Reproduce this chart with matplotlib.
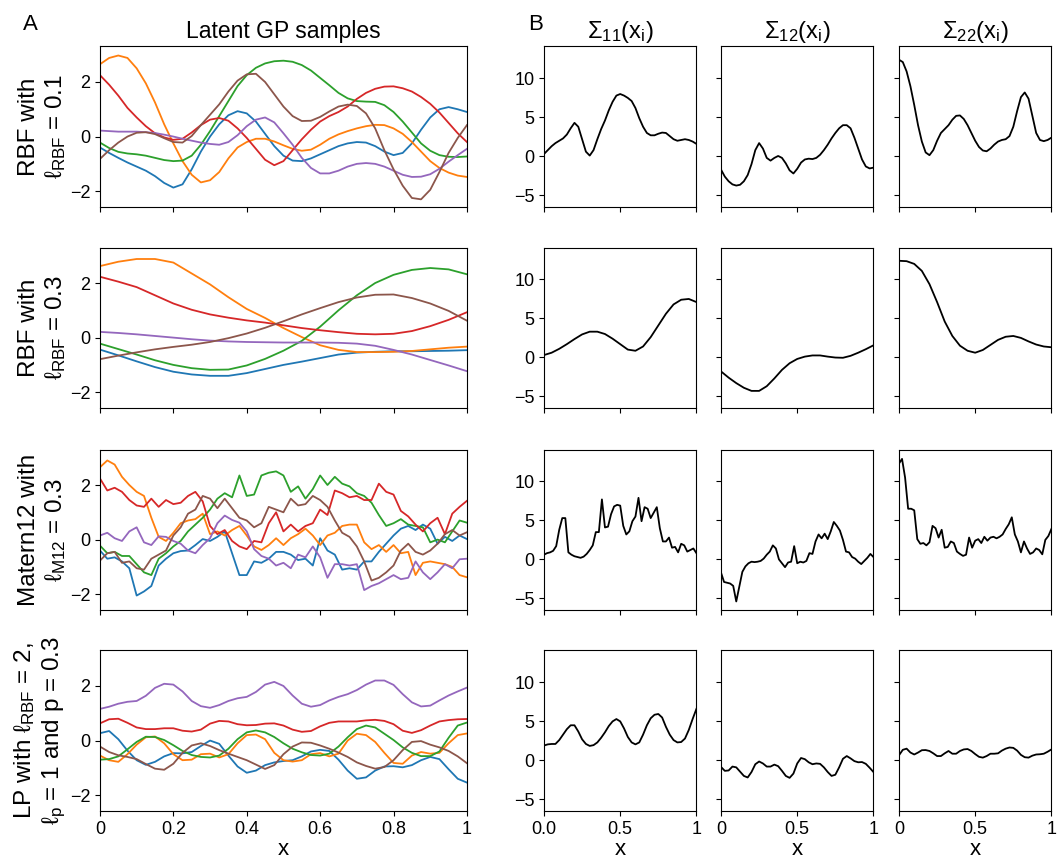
import numpy as np
import matplotlib
matplotlib.use('Agg')
import matplotlib.pyplot as plt

plt.rcParams['font.family'] = ['Liberation Sans', 'DejaVu Sans']
plt.rcParams['mathtext.fontset'] = 'custom'
plt.rcParams['mathtext.rm'] = 'Liberation Sans'
plt.rcParams['mathtext.it'] = 'Liberation Sans:italic'

# ---- panel A: latent GP samples ----
# RBF, lengthscale 0.1  (x = 0 .. 1, 41 points)
rbf01_blue = [-0.4, -0.6, -0.78, -0.95, -1.1, -1.25, -1.45, -1.7, -1.87, -1.75, -1.2, -0.55, 0.0, 0.45, 0.78, 0.93, 0.85, 0.55, 0.1, -0.35, -0.7, -0.88, -0.9, -0.8, -0.65, -0.5, -0.35, -0.25, -0.2, -0.22, -0.35, -0.55, -0.68, -0.6, -0.25, 0.25, 0.7, 1.0, 1.08, 1.0, 0.9]
rbf01_orange = [2.65, 2.88, 2.97, 2.88, 2.5, 1.95, 1.25, 0.45, -0.25, -0.9, -1.4, -1.68, -1.6, -1.3, -0.8, -0.4, -0.2, -0.08, -0.08, -0.18, -0.32, -0.45, -0.52, -0.48, -0.3, -0.08, 0.08, 0.2, 0.3, 0.38, 0.43, 0.42, 0.3, 0.1, -0.2, -0.55, -0.9, -1.15, -1.32, -1.43, -1.48]
rbf01_green = [-0.22, -0.42, -0.56, -0.62, -0.65, -0.7, -0.78, -0.86, -0.9, -0.88, -0.7, -0.3, 0.2, 0.75, 1.3, 1.85, 2.25, 2.52, 2.68, 2.76, 2.78, 2.74, 2.62, 2.42, 2.15, 1.88, 1.6, 1.4, 1.3, 1.28, 1.27, 1.15, 0.9, 0.55, 0.15, -0.25, -0.52, -0.68, -0.74, -0.75, -0.73]
rbf01_red = [2.25, 1.9, 1.5, 1.05, 0.7, 0.38, 0.12, -0.03, -0.12, -0.08, 0.15, 0.42, 0.62, 0.68, 0.58, 0.3, -0.05, -0.45, -0.85, -1.05, -0.9, -0.5, -0.1, 0.25, 0.55, 0.75, 0.9, 1.1, 1.38, 1.6, 1.75, 1.83, 1.84, 1.77, 1.65, 1.45, 1.2, 0.88, 0.5, 0.12, -0.2]
rbf01_purple = [0.22, 0.2, 0.18, 0.18, 0.18, 0.16, 0.13, 0.07, 0.0, -0.08, -0.15, -0.22, -0.27, -0.3, -0.2, 0.05, 0.38, 0.62, 0.7, 0.52, 0.12, -0.3, -0.78, -1.15, -1.35, -1.35, -1.25, -1.1, -1.0, -0.97, -1.0, -1.1, -1.25, -1.4, -1.48, -1.47, -1.38, -1.18, -0.92, -0.68, -0.45]
rbf01_brown = [-0.82, -0.5, -0.22, 0.0, 0.14, 0.16, 0.09, -0.06, -0.2, -0.22, 0.02, 0.42, 0.8, 1.18, 1.65, 2.05, 2.28, 2.3, 2.0, 1.55, 1.1, 0.75, 0.57, 0.58, 0.72, 0.92, 1.1, 1.17, 1.12, 0.85, 0.3, -0.5, -1.2, -1.8, -2.25, -2.3, -1.95, -1.3, -0.6, -0.05, 0.42]

# RBF, lengthscale 0.3  (21 points)
rbf03_blue = [-0.44, -0.65, -0.87, -1.08, -1.25, -1.35, -1.4, -1.4, -1.3, -1.15, -1.0, -0.88, -0.75, -0.62, -0.55, -0.52, -0.5, -0.5, -0.49, -0.48, -0.46]
rbf03_orange = [2.62, 2.78, 2.88, 2.88, 2.75, 2.35, 1.95, 1.48, 1.05, 0.72, 0.35, 0.02, -0.28, -0.45, -0.53, -0.53, -0.52, -0.49, -0.43, -0.37, -0.33]
rbf03_green = [-0.22, -0.42, -0.62, -0.83, -1.0, -1.12, -1.18, -1.17, -1.02, -0.78, -0.48, -0.12, 0.4, 1.0, 1.55, 2.0, 2.3, 2.48, 2.55, 2.5, 2.32]
rbf03_red = [2.23, 2.05, 1.85, 1.55, 1.25, 1.02, 0.85, 0.73, 0.63, 0.55, 0.45, 0.35, 0.27, 0.2, 0.14, 0.12, 0.14, 0.24, 0.42, 0.65, 0.93]
rbf03_purple = [0.21, 0.17, 0.12, 0.06, 0.0, -0.06, -0.11, -0.14, -0.16, -0.17, -0.18, -0.18, -0.18, -0.19, -0.22, -0.3, -0.45, -0.62, -0.82, -1.02, -1.23]
rbf03_brown = [-0.79, -0.66, -0.54, -0.43, -0.34, -0.26, -0.16, -0.02, 0.15, 0.36, 0.6, 0.85, 1.08, 1.3, 1.47, 1.57, 1.58, 1.45, 1.25, 0.98, 0.62]

# Matern12, lengthscale 0.3  (51 points)
m12_blue = [-0.4, -0.7, -0.65, -0.8, -1.05, -2.05, -1.9, -1.7, -0.95, -0.7, -0.5, -0.42, -0.4, -0.2, 0.02, -0.05, 0.1, 0.3, -0.5, -1.3, -1.3, -0.8, -0.85, -0.7, -0.45, -0.45, -0.55, -0.75, -0.7, -0.95, 0.05, -0.4, -0.55, -1.1, -1.05, -1.1, -0.8, -0.8, -0.45, -0.15, 0.15, 0.4, 0.5, 0.35, 0.55, 0.4, -0.15, 0.1, -0.05, 0.15, 0.02]
m12_orange = [2.65, 2.9, 2.75, 2.3, 2.0, 1.75, 1.6, 0.8, 0.1, -0.05, 0.25, 0.6, 0.7, 0.75, 0.95, 0.2, 0.3, 0.15, 0.35, 0.5, 0.15, -0.25, -0.38, -0.2, 0.05, -0.2, 0.05, 0.2, 0.4, 0.15, -0.2, 0.15, 0.25, 0.5, 0.55, 0.55, -0.1, -0.35, -0.2, -0.45, -0.2, -0.5, -0.45, -1.3, -0.85, -0.8, -0.85, -0.9, -1.0, -1.3, -1.38]
m12_green = [-0.22, -0.5, -0.45, -0.6, -0.6, -0.9, -1.2, -1.3, -0.7, -0.5, -0.25, -0.05, 0.3, 0.55, 0.8, 1.1, 1.5, 1.7, 1.55, 2.35, 1.6, 1.65, 2.35, 2.45, 2.5, 2.35, 1.75, 1.95, 1.5, 1.85, 2.35, 2.0, 2.3, 2.05, 1.95, 1.7, 1.6, 1.35, 0.9, 0.5, 0.6, 0.75, 0.55, 0.5, 0.45, -0.1, 0.0, -0.1, 0.3, 0.7, 0.62]
m12_red = [2.24, 1.8, 1.9, 1.75, 1.45, 1.25, 1.2, 1.5, 1.2, 1.45, 1.3, 1.35, 1.6, 1.75, 1.4, 0.5, 0.2, 0.35, -0.05, -0.25, -0.35, -0.05, -0.1, 0.6, 1.0, 0.3, 0.55, 0.3, 0.5, 0.6, 1.1, 0.9, 1.8, 1.7, 1.55, 1.6, 1.45, 1.45, 2.05, 1.75, 1.65, 1.05, 0.85, 0.55, 0.3, 0.6, 0.8, 0.2, 0.95, 1.2, 1.42]
m12_purple = [0.15, 0.25, 0.05, -0.05, 0.3, 0.45, -0.1, -0.2, 0.12, 0.1, -0.05, -0.15, -0.4, -0.5, -0.2, 0.05, 0.6, 0.88, 0.72, 0.62, 0.3, -0.35, -0.6, -0.7, -0.95, -0.85, -1.05, -0.55, -0.65, -0.25, -0.65, -1.4, -0.9, -0.9, -0.95, -0.9, -1.85, -1.7, -1.6, -1.45, -1.3, -1.45, -1.4, -0.8, -1.2, -1.45, -1.2, -0.9, -1.05, -0.72, -0.7]
m12_brown = [-0.77, -0.5, -0.45, -0.85, -0.8, -1.05, -1.1, -0.7, -0.55, -0.4, 0.15, 0.45, 0.95, 1.1, 1.6, 1.5, 1.15, 1.5, 1.15, 0.8, 0.7, 0.45, 0.6, 1.2, 1.1, 1.0, 1.5, 1.25, 1.3, 1.6, 1.45, 1.2, 0.7, 0.25, 0.1, -0.25, -0.8, -1.5, -1.4, -1.2, -0.95, -0.4, -0.15, -0.45, -0.55, -0.4, -0.15, 0.2, 0.35, 0.15, 0.27]

# locally periodic kernel  (41 points)
lp_blue = [0.27, 0.35, 0.05, -0.37, -0.72, -0.89, -0.78, -0.58, -0.46, -0.47, -0.42, -0.2, 0.0, -0.12, -0.55, -0.95, -1.18, -1.1, -0.9, -0.8, -0.75, -0.72, -0.58, -0.4, -0.34, -0.38, -0.7, -1.1, -1.4, -1.35, -1.1, -0.95, -0.94, -0.98, -0.9, -0.72, -0.6, -0.68, -1.05, -1.4, -1.54]
lp_orange = [-0.55, -0.72, -0.78, -0.5, -0.15, 0.12, 0.15, -0.1, -0.5, -0.72, -0.7, -0.5, -0.48, -0.62, -0.5, -0.1, 0.2, 0.22, 0.05, -0.45, -0.72, -0.77, -0.72, -0.5, -0.46, -0.58, -0.48, 0.0, 0.25, 0.2, -0.05, -0.45, -0.82, -0.85, -0.55, -0.42, -0.48, -0.45, -0.1, 0.2, 0.26]
lp_green = [-0.7, -0.68, -0.58, -0.32, -0.05, 0.14, 0.13, 0.02, -0.17, -0.38, -0.53, -0.6, -0.62, -0.55, -0.3, 0.05, 0.3, 0.37, 0.3, 0.13, -0.1, -0.3, -0.43, -0.53, -0.55, -0.48, -0.22, 0.12, 0.42, 0.55, 0.48, 0.25, 0.02, -0.25, -0.45, -0.57, -0.57, -0.4, 0.1, 0.55, 0.66]
lp_red = [0.63, 0.78, 0.8, 0.65, 0.48, 0.42, 0.42, 0.45, 0.45, 0.36, 0.33, 0.4, 0.62, 0.72, 0.7, 0.6, 0.56, 0.57, 0.62, 0.63, 0.55, 0.4, 0.32, 0.35, 0.52, 0.65, 0.7, 0.7, 0.7, 0.74, 0.76, 0.72, 0.6, 0.36, 0.28, 0.38, 0.55, 0.7, 0.75, 0.78, 0.79]
lp_purple = [1.16, 1.24, 1.35, 1.42, 1.45, 1.64, 1.93, 2.08, 2.05, 1.8, 1.45, 1.26, 1.2, 1.3, 1.45, 1.55, 1.6, 1.78, 2.05, 2.15, 2.0, 1.65, 1.35, 1.24, 1.3, 1.47, 1.6, 1.7, 1.85, 2.05, 2.2, 2.2, 2.04, 1.7, 1.4, 1.25, 1.28, 1.47, 1.65, 1.8, 1.94]
lp_brown = [-0.22, -0.42, -0.54, -0.6, -0.68, -0.86, -1.03, -1.07, -0.85, -0.45, -0.18, -0.1, -0.2, -0.35, -0.48, -0.6, -0.72, -0.88, -1.04, -0.9, -0.5, -0.22, -0.07, -0.08, -0.18, -0.3, -0.44, -0.6, -0.8, -0.93, -1.03, -0.97, -0.72, -0.35, -0.05, -0.02, -0.15, -0.25, -0.38, -0.58, -0.83]

# ---- panel B: covariance entries ----
s11_rbf01 = [0.3, 0.8, 1.3, 1.7, 2.0, 2.3, 2.8, 3.6, 4.3, 3.8, 2.2, 0.6, 0.1, 0.8, 2.2, 3.5, 4.6, 5.9, 7.0, 7.8, 8.0, 7.8, 7.5, 7.1, 6.2, 4.9, 3.8, 3.0, 2.7, 2.7, 2.9, 3.05, 3.0, 2.6, 2.2, 2.0, 2.1, 2.2, 2.1, 1.9, 1.6]
s12_rbf01 = [-1.7, -2.6, -3.2, -3.6, -3.75, -3.65, -3.2, -2.4, -1.0, 0.8, 1.7, 1.0, -0.2, -0.55, -0.2, 0.05, -0.2, -0.9, -1.8, -2.2, -1.6, -0.8, -0.4, -0.3, -0.35, -0.2, 0.2, 0.8, 1.5, 2.3, 3.0, 3.6, 4.0, 4.0, 3.6, 2.4, 1.0, -0.4, -1.3, -1.55, -1.45]
s22_rbf01 = [12.4, 12.1, 10.9, 9.0, 6.6, 4.0, 1.9, 0.5, 0.15, 0.8, 2.0, 3.0, 3.5, 4.0, 4.7, 5.2, 5.25, 4.8, 4.0, 3.0, 2.0, 1.2, 0.75, 0.65, 1.0, 1.5, 1.9, 2.1, 2.2, 2.6, 3.8, 5.8, 7.6, 8.2, 7.4, 5.2, 3.0, 2.1, 1.95, 2.1, 2.4]

s11_rbf03 = [0.3, 0.6, 1.1, 1.7, 2.35, 2.95, 3.3, 3.3, 3.0, 2.4, 1.7, 1.0, 0.85, 1.4, 2.6, 4.1, 5.6, 6.8, 7.4, 7.5, 7.1]
s12_rbf03 = [-1.8, -2.6, -3.3, -3.9, -4.3, -4.3, -3.7, -2.7, -1.6, -0.75, -0.2, 0.1, 0.25, 0.25, 0.1, -0.02, -0.05, 0.2, 0.6, 1.05, 1.55]
s22_rbf03 = [12.4, 12.35, 12.0, 11.1, 9.4, 7.1, 4.6, 2.75, 1.5, 0.85, 0.6, 0.95, 1.6, 2.25, 2.65, 2.75, 2.5, 2.05, 1.65, 1.4, 1.3]

s11_m12 = [0.6, 0.8, 0.9, 1.1, 1.7, 3.8, 5.3, 5.3, 0.9, 0.6, 0.4, 0.3, 0.2, 0.35, 0.7, 1.2, 1.8, 3.5, 3.5, 7.7, 4.1, 4.2, 5.8, 6.8, 7.0, 6.9, 4.3, 3.2, 3.6, 4.9, 5.5, 7.9, 4.9, 6.7, 6.5, 5.3, 6.0, 6.7, 4.0, 2.3, 2.3, 2.8, 1.5, 1.6, 0.9, 2.0, 1.8, 1.0, 1.2, 1.4, 0.8]
s12_m12 = [-1.7, -2.9, -3.0, -3.1, -3.4, -5.4, -3.5, -1.6, -0.9, -0.5, -0.3, -0.35, -0.3, -0.2, 0.1, 0.6, 1.0, 1.8, 1.4, 0.0, -0.5, -1.0, -0.4, -0.3, 1.7, -0.5, -0.3, -0.4, -0.2, 0.8, 0.7, 2.3, 3.2, 2.7, 3.3, 2.6, 3.6, 4.8, 4.3, 3.7, 2.5, 1.0, 0.9, 0.3, 0.1, -0.3, -0.6, -0.2, 0.2, 0.7, 0.3]
s22_m12 = [12.3, 12.9, 10.5, 6.5, 6.5, 6.3, 2.6, 2.0, 2.1, 1.8, 2.2, 4.3, 4.0, 2.8, 3.8, 1.5, 1.6, 2.3, 2.1, 1.0, 0.7, 0.45, 0.6, 2.8, 1.5, 2.4, 2.6, 2.1, 2.9, 2.4, 2.8, 2.9, 2.7, 2.9, 3.2, 3.9, 4.5, 5.4, 3.2, 2.3, 0.9, 2.3, 1.4, 0.7, 0.9, 1.4, 1.2, 0.65, 2.5, 3.0, 3.9]

s11_lp = [1.9, 2.05, 2.1, 2.1, 2.6, 3.3, 4.0, 4.5, 4.5, 3.7, 2.7, 2.1, 1.85, 1.95, 2.3, 2.9, 3.6, 4.4, 5.0, 5.3, 5.0, 4.1, 3.0, 2.3, 2.05, 2.3, 3.3, 4.5, 5.4, 5.85, 5.95, 5.5, 4.3, 3.3, 2.6, 2.3, 2.35, 2.8, 3.9, 5.3, 6.6]
s12_lp = [-0.85, -1.35, -1.3, -0.8, -0.9, -1.45, -2.0, -2.2, -1.5, -0.5, -0.15, -0.4, -0.8, -0.8, -0.55, -0.75, -1.35, -2.0, -2.25, -1.7, -0.4, 0.3, 0.15, -0.25, -0.5, -0.4, -0.45, -0.9, -1.5, -2.0, -1.85, -0.9, 0.2, 0.55, 0.25, -0.1, -0.25, -0.22, -0.45, -0.95, -1.5]
s22_lp = [0.65, 1.35, 1.5, 1.0, 0.75, 1.0, 1.3, 1.32, 1.2, 0.9, 0.55, 0.55, 0.9, 1.2, 0.85, 0.85, 1.2, 1.4, 1.45, 1.2, 0.8, 0.45, 0.35, 0.55, 0.85, 0.85, 0.9, 1.25, 1.5, 1.65, 1.6, 1.25, 0.7, 0.4, 0.35, 0.6, 0.75, 0.78, 0.85, 1.1, 1.4]

row_labels = ['RBF with\n\u2113$_{\\mathrm{RBF}}$ = 0.1',
              'RBF with\n\u2113$_{\\mathrm{RBF}}$ = 0.3',
              'Matern12 with\n\u2113$_{\\mathrm{M12}}$ = 0.3',
              'LP with \u2113$_{\\mathrm{RBF}}$ = 2,\n\u2113$_{\\mathrm{p}}$ = 1 and p = 0.3']
col_titles = ['\u03a3$_{\\mathrm{11}}$(x$_{\\mathrm{i}}$)',
              '\u03a3$_{\\mathrm{12}}$(x$_{\\mathrm{i}}$)',
              '\u03a3$_{\\mathrm{22}}$(x$_{\\mathrm{i}}$)']

samples = [
    [rbf01_blue, rbf01_orange, rbf01_green, rbf01_red, rbf01_purple, rbf01_brown],
    [rbf03_blue, rbf03_orange, rbf03_green, rbf03_red, rbf03_purple, rbf03_brown],
    [m12_blue, m12_orange, m12_green, m12_red, m12_purple, m12_brown],
    [lp_blue, lp_orange, lp_green, lp_red, lp_purple, lp_brown],
]
sigmas = [
    [s11_rbf01, s12_rbf01, s22_rbf01],
    [s11_rbf03, s12_rbf03, s22_rbf03],
    [s11_m12, s12_m12, s22_m12],
    [s11_lp, s12_lp, s22_lp],
]

fig = plt.figure(figsize=(10.6, 8.61), dpi=100)

# axes positions in figure fractions
row_bottoms = [0.7596, 0.5261, 0.2915, 0.0581]
row_h = 0.1864
left_x, left_w = 0.0943, 0.3462
right_x = [0.5132, 0.6802, 0.8481]
right_w = 0.1438

tick_fs = 13
for r in range(4):
    ax = fig.add_axes([left_x, row_bottoms[r], left_w, row_h])
    for y in samples[r]:
        ax.plot(np.linspace(0, 1, len(y)), y, lw=1.3)
    ax.set_xlim(0, 1)
    ax.set_ylim(-2.58, 3.3)
    ax.set_yticks([-2, 0, 2])
    ax.set_xticks([0, 0.2, 0.4, 0.6, 0.8, 1.0])
    ax.tick_params(labelsize=tick_fs)
    ax.set_ylabel(row_labels[r], fontsize=17.5, labelpad=1)
    if r == 3:
        ax.set_xticklabels(['0', '0.2', '0.4', '0.6', '0.8', '1'])
        ax.set_xlabel('x', fontsize=16, labelpad=1)
    else:
        ax.set_xticklabels([])
    if r == 0:
        ax.set_title('Latent GP samples', fontsize=16.5)

    for c in range(3):
        ax2 = fig.add_axes([right_x[c], row_bottoms[r], right_w, row_h])
        y = sigmas[r][c]
        ax2.plot(np.linspace(0, 1, len(y)), y, color='k', lw=1.3)
        ax2.set_xlim(0, 1)
        ax2.set_ylim(-6.5, 14.1)
        ax2.set_yticks([-5, 0, 5, 10])
        ax2.set_xticks([0, 0.5, 1.0])
        ax2.tick_params(labelsize=tick_fs)
        if c > 0:
            ax2.set_yticklabels([])
        if r == 3:
            if c == 0:
                ax2.set_xticklabels(['0.0', '0.5', '1'])
            else:
                ax2.set_xticklabels(['0', '0.5', '1'])
            ax2.set_xlabel('x', fontsize=16, labelpad=1)
        else:
            ax2.set_xticklabels([])
        if r == 0:
            ax2.set_title(col_titles[c], fontsize=17)

fig.text(23 / 1060, 1 - 14 / 861, 'A', fontsize=16, va='top')
fig.text(528 / 1060, 1 - 14 / 861, 'B', fontsize=16, va='top')

fig.savefig('out.png', dpi=100)
